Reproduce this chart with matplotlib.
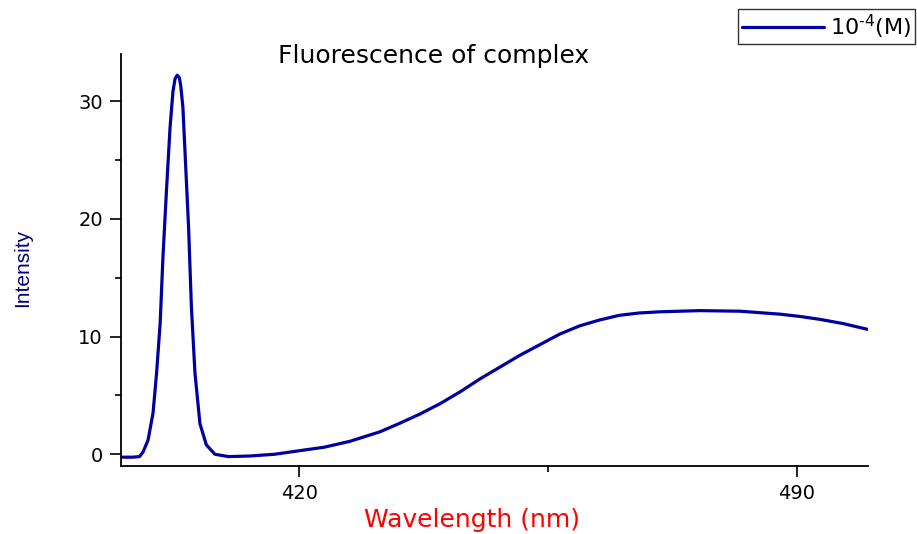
import matplotlib
matplotlib.use("Agg")
import matplotlib.pyplot as plt
from matplotlib.ticker import MultipleLocator, FixedLocator

plt.rcParams['font.family'] = ['DejaVu Sans']

wavelength = [395.0, 396.5, 397.5, 398.0, 398.7, 399.4, 399.9, 400.4, 400.8, 401.3, 401.8,
              402.2, 402.5, 402.8, 403.1, 403.3, 403.6, 404.0, 404.4, 404.8, 405.3, 406.0, 406.9,
              408.1, 410.0, 413.0, 416.5, 420.0, 423.5, 427.1, 431.3, 434.0, 436.9,
              439.8, 442.6, 445.4, 448.2, 451.0, 453.8, 456.6, 459.4, 462.2, 465.0,
              467.8, 470.7, 476.3, 482.0, 487.6, 490.5, 493.3, 496.5, 500.0]
intensity = [-0.25, -0.25, -0.2, 0.2, 1.2, 3.5, 6.9, 11.1, 16.8, 22.5, 27.8,
             30.8, 31.9, 32.2, 32.0, 31.3, 29.5, 24.4, 19.3, 12.5, 6.9, 2.6, 0.8,
             0.0, -0.2, -0.15, 0.0, 0.3, 0.6, 1.1, 1.9, 2.6, 3.4,
             4.3, 5.3, 6.4, 7.4, 8.4, 9.3, 10.2, 10.9, 11.4, 11.8,
             12.0, 12.1, 12.2, 12.15, 11.9, 11.7, 11.45, 11.1, 10.6]

x_major = [420, 490]
x_minor = [455]
legend_label = r'10$^{\text{-4}}$(M)'
title = 'Fluorescence of complex'

fig = plt.figure(figsize=(9.17, 5.34), dpi=100)
ax = fig.add_axes([0.132, 0.1273, 0.9466 - 0.132, 0.8989 - 0.1273])

line, = ax.plot(wavelength, intensity, color='#0000A0', lw=2.3,
                solid_joinstyle='round', solid_capstyle='round')

ax.set_xlim(394.9, 500)
ax.set_ylim(-1.0, 34.0)
ax.xaxis.set_major_locator(FixedLocator(x_major))
ax.xaxis.set_minor_locator(FixedLocator(x_minor))
ax.yaxis.set_major_locator(MultipleLocator(10))
ax.yaxis.set_minor_locator(MultipleLocator(5))

for s in ['top', 'right']:
    ax.spines[s].set_visible(False)
for s in ['left', 'bottom']:
    ax.spines[s].set_linewidth(1.3)

ax.tick_params(which='major', direction='out', length=8, width=1.2, labelsize=14, pad=5)
ax.tick_params(which='minor', direction='out', length=4, width=1.2)
ax.tick_params(axis='x', pad=5)

fig.text(434 / 917, 1 - 56 / 534, title, ha='center', va='center', fontsize=18)
fig.text(472 / 917, 1 - 520 / 534, 'Wavelength (nm)', ha='center', va='center',
         fontsize=18, color='#FF0000')
fig.text(23 / 917, 1 - 268 / 534, 'Intensity', ha='center', va='center', rotation=90,
         fontsize=15, color='#000080', family=['Liberation Sans'])

leg = fig.legend([line], [legend_label], loc='upper right',
                 bbox_to_anchor=(915 / 917, 1 - 9 / 534), fontsize=16,
                 frameon=True, fancybox=False, handlelength=3.7, handletextpad=0.3,
                 borderpad=0.15, borderaxespad=0)
leg.get_frame().set_edgecolor('black')
leg.get_frame().set_linewidth(1.0)

fig.savefig('out.png', dpi=100)
